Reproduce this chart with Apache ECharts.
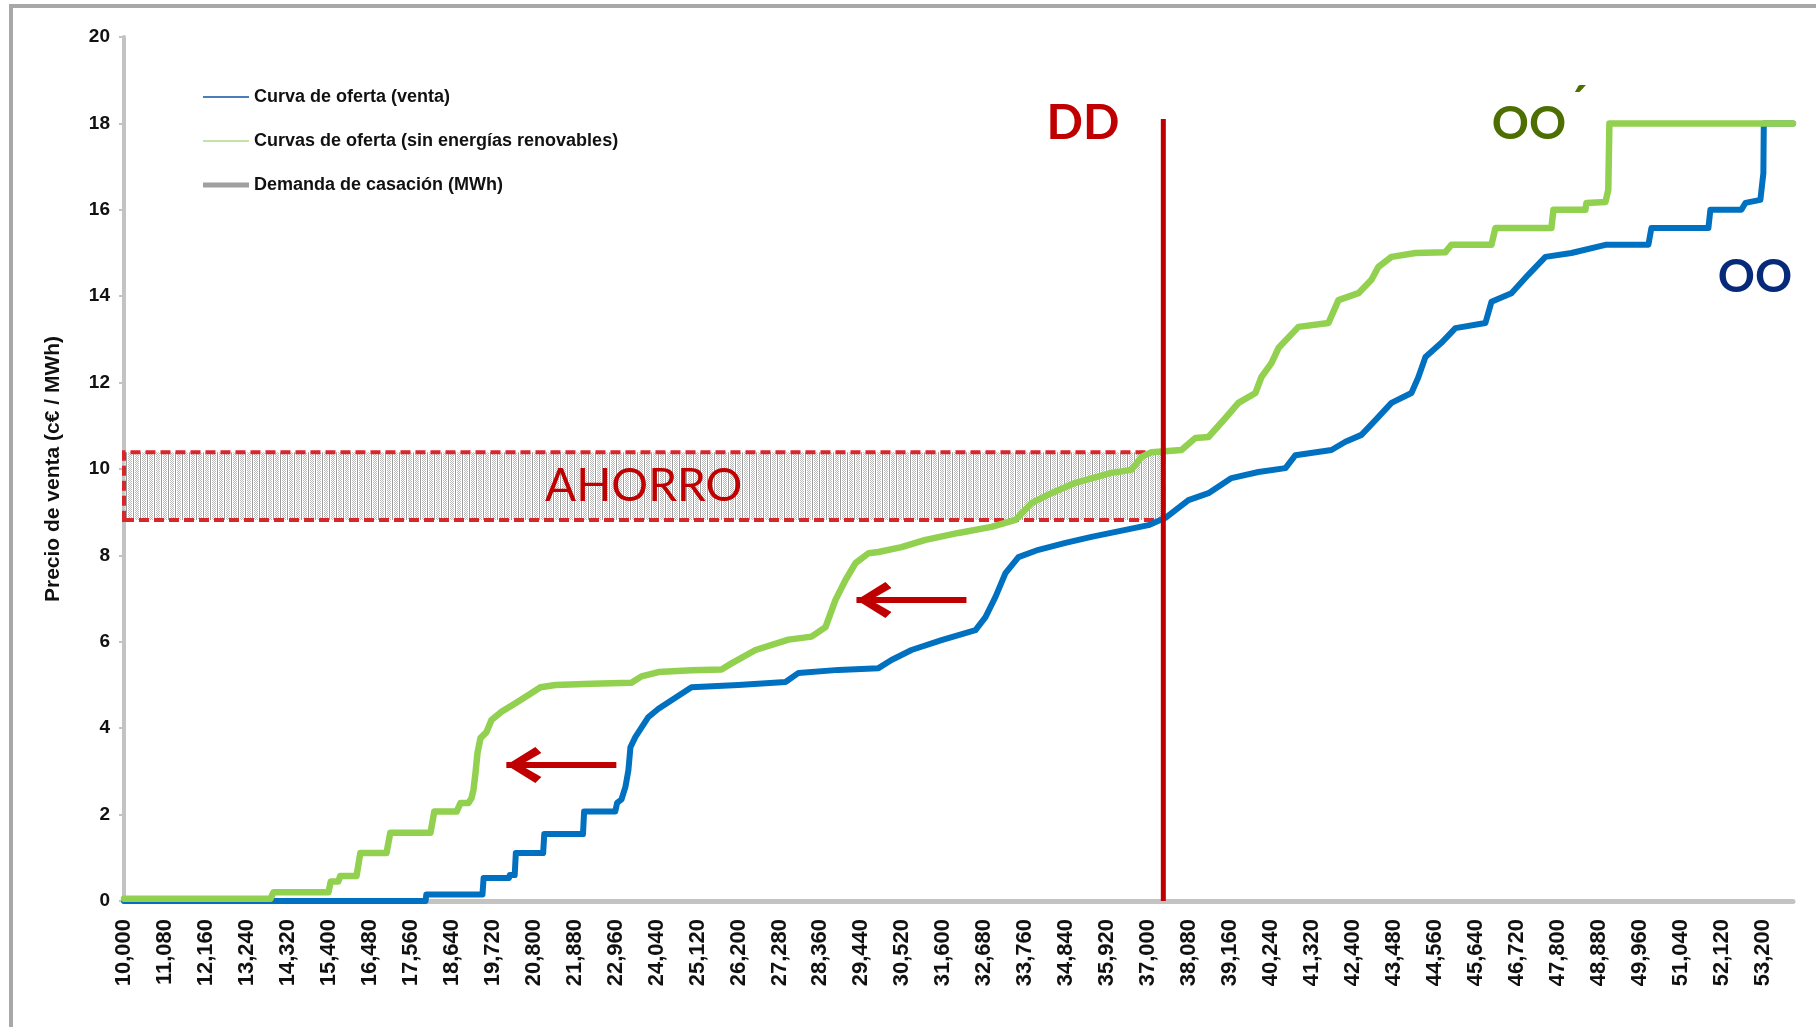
<!DOCTYPE html>
<html>
<head>
<meta charset="utf-8">
<script src="https://cdn.jsdelivr.net/npm/echarts@6/dist/echarts.min.js"></script>
<style>
html,body{margin:0;padding:0;background:#fff;}
#chart{width:1816px;height:1027px;}
</style>
</head>
<body>
<div id="chart"></div>
<script>
// ---- data ----
const SERIES_NAMES = ['Curva de oferta (venta)', 'Curvas de oferta (sin energías renovables)', 'Demanda de casación (MWh)'];
const X_MIN = 10000, X_MAX = 54000, X_STEP = 1080;
const Y_MIN = 0, Y_MAX = 20, Y_STEP = 2;

const BLUE_MWH = [10000,17950,17970,19450,19480,20150,20170,20300,20330,21050,21080,22100,22130,22950,23000,23114,23219,23298,23351,23483,23826,24090,24353,24961,26200,27439,27782,28836,29891,30233,30761,31552,32448,32711,32975,33238,33581,34108,34820,35505,36401,37008,37456,38062,38590,39196,39907,40619,40883,41832,42201,42623,42992,43414,43941,44125,44310,44731,45100,45891,46050,46577,47025,47473,48158,49055,50188,50267,51770,51822,52639,52745,53140,53219,53230,54000];
const BLUE_PRICE = [0,0,0.15,0.15,0.53,0.53,0.6,0.6,1.11,1.11,1.55,1.55,2.07,2.07,2.27,2.35,2.64,3.03,3.56,3.80,4.26,4.45,4.6,4.95,5.0,5.07,5.28,5.35,5.39,5.58,5.81,6.04,6.27,6.57,7.04,7.59,7.96,8.13,8.29,8.43,8.59,8.70,8.87,9.28,9.44,9.79,9.93,10.02,10.32,10.44,10.63,10.79,11.13,11.53,11.76,12.13,12.59,12.92,13.26,13.38,13.87,14.07,14.50,14.91,15.0,15.19,15.19,15.58,15.58,16.0,16.0,16.16,16.23,16.85,18.0,18.0];

const GREEN_MWH = [10000,13860,13940,15390,15450,15650,15700,16130,16230,16920,17020,18080,18180,18770,18870,19080,19160,19213,19266,19319,19398,19556,19688,19952,20320,20663,20979,21375,22324,23378,23642,24090,24961,25752,26016,26648,27518,28125,28494,28757,29021,29284,29627,29891,30497,31130,31999,32869,33502,33923,34451,35083,36032,36560,36823,37087,37878,38247,38590,39038,39380,39829,39987,40250,40435,40962,41753,42017,42544,42887,43071,43414,44046,44837,44995,46050,46155,47631,47684,48527,48554,49055,49130,49160,54000];
const GREEN_PRICE = [0.05,0.05,0.2,0.2,0.45,0.45,0.58,0.58,1.11,1.11,1.58,1.58,2.07,2.07,2.27,2.27,2.38,2.57,2.96,3.43,3.77,3.91,4.19,4.38,4.58,4.77,4.95,5.0,5.03,5.05,5.2,5.3,5.34,5.36,5.5,5.81,6.05,6.12,6.34,6.97,7.43,7.82,8.05,8.08,8.19,8.36,8.52,8.66,8.82,9.21,9.44,9.68,9.91,9.98,10.28,10.39,10.44,10.72,10.74,11.18,11.53,11.76,12.13,12.45,12.80,13.29,13.38,13.91,14.07,14.38,14.68,14.91,15.00,15.02,15.19,15.19,15.58,15.58,16.0,16.0,16.16,16.18,16.46,18.0,18.0];

const DD_MWH = 37400;          // demanda de casación
const DD_PRICE_RANGE = [0, 18.1];
const AHORRO_PRICE = [8.82, 10.39]; // precio con / sin renovables en DD
const ARROW_PRICE = [3.15, 6.97];
const ARROW_FROM = [22980, 32210];
const ARROW_TO = [20080, 29310];

const LABELS = {dd: 'DD', ooGreen: 'OO', prime: '´', ooBlue: 'OO', ahorro: 'AHORRO'};

// ---- build ----
const zip = (xs, ys) => xs.map((x, i) => [x, ys[i]]);
const fmt = v => String(Math.round(v)).replace(/\B(?=(\d{3})+(?!\d))/g, ',');

// dotted gray fill pattern
const pc = document.createElement('canvas');
pc.width = 7; pc.height = 4;
const g = pc.getContext('2d');
g.fillStyle = 'rgba(255,255,255,0.5)'; g.fillRect(0, 0, 7, 4);
g.fillStyle = '#9c9c9c'; g.fillRect(0, 0, 1, 4);
g.fillStyle = '#b8b8b8';
g.fillRect(2, 0, 1, 1); g.fillRect(4, 0, 1, 1); g.fillRect(3, 1, 1, 1); g.fillRect(5, 1, 1, 1);
g.fillRect(2, 2, 1, 1); g.fillRect(4, 2, 1, 1); g.fillRect(3, 3, 1, 1); g.fillRect(5, 3, 1, 1);

const chevron = 'path://M0,0 L18,29 L12,35 L0,14 L-12,35 L-18,29 Z M0,-35 L0.01,-35 L0,-34.99 Z';
const thinIcon = 'path://M0,0 L0.01,0 L0,0.01 Z M0,7 L46,7 L46,9 L0,9 Z M0,16 L0.01,16 L0,15.99 Z';
const thickIcon = 'path://M0,0 L0.01,0 L0,0.01 Z M0,5.5 L46,5.5 L46,10.5 L0,10.5 Z M0,16 L0.01,16 L0,15.99 Z';

const AX_FONT = 'Liberation Sans';
const ANN_FONT = 'Lato';

const chart = echarts.init(document.getElementById('chart'), null, {renderer: 'canvas'});
chart.setOption({
  backgroundColor: '#fff',
  animation: false,
  grid: {left: 124, right: 23, top: 37, bottom: 126, containLabel: false},
  legend: {
    orient: 'vertical', left: 203, top: 88, padding: 0,
    itemWidth: 46, itemHeight: 16, itemGap: 26,
    textStyle: {fontFamily: AX_FONT, fontSize: 18, fontWeight: 'bold', color: '#111'},
    data: [
      {name: SERIES_NAMES[0], icon: thinIcon, itemStyle: {color: '#4a7ebb', borderWidth: 0}},
      {name: SERIES_NAMES[1], icon: thinIcon, itemStyle: {color: '#c3e3a5', borderWidth: 0}},
      {name: SERIES_NAMES[2], icon: thickIcon, itemStyle: {color: '#a0a0a0', borderWidth: 0}}
    ]
  },
  xAxis: {
    type: 'value', min: X_MIN, max: X_MAX, interval: X_STEP,
    axisLine: {show: true, onZero: false, lineStyle: {color: '#c3c3c3', width: 5}},
    axisTick: {show: false},
    splitLine: {show: false},
    axisLabel: {
      rotate: 90, margin: 18, fontFamily: AX_FONT, fontSize: 22, fontWeight: 'bold', color: '#111',
      formatter: fmt, showMaxLabel: false, showMinLabel: true, hideOverlap: false
    }
  },
  yAxis: {
    type: 'value', min: Y_MIN, max: Y_MAX, interval: Y_STEP,
    name: 'Precio de venta (c€ / MWh)', nameLocation: 'middle', nameRotate: 90, nameGap: 60,
    nameTextStyle: {fontFamily: AX_FONT, fontSize: 21, fontWeight: 'bold', color: '#111'},
    axisLine: {show: true, lineStyle: {color: '#c3c3c3', width: 4}},
    axisTick: {show: true, length: 5, lineStyle: {color: '#c3c3c3', width: 2}},
    splitLine: {show: false},
    axisLabel: {margin: 14, fontFamily: AX_FONT, fontSize: 19, fontWeight: 'bold', color: '#111'}
  },
  series: [
    {
      name: SERIES_NAMES[0], type: 'line', data: zip(BLUE_MWH, BLUE_PRICE),
      symbol: 'none', showSymbol: false, z: 2, color: '#0070c0',
      lineStyle: {width: 6, color: '#0070c0', cap: 'round', join: 'round'}
    },
    {
      name: SERIES_NAMES[1], type: 'line', data: zip(GREEN_MWH, GREEN_PRICE),
      symbol: 'none', showSymbol: false, z: 3, color: '#92d050',
      lineStyle: {width: 6.5, color: '#92d050', cap: 'round', join: 'round'}
    },
    {
      name: SERIES_NAMES[2], type: 'line', data: [],
      symbol: 'none', showSymbol: false, color: '#a0a0a0',
      lineStyle: {width: 5, color: '#a0a0a0'}
    },
    {
      name: 'ahorro', type: 'line', data: [], z: 4, silent: true,
      markArea: {
        silent: true,
        itemStyle: {
          color: {image: pc, repeat: 'repeat'},
          borderColor: '#d8262c', borderWidth: 4, borderType: [10, 5]
        },
        label: {
          show: true, position: 'inside', formatter: LABELS.ahorro,
          fontFamily: ANN_FONT, fontSize: 46, color: '#c00000'
        },
        data: [[{coord: [X_MIN, AHORRO_PRICE[0]]}, {coord: [DD_MWH, AHORRO_PRICE[1]]}]]
      }
    },
    {
      name: 'DD', type: 'line', data: [[DD_MWH, DD_PRICE_RANGE[0]], [DD_MWH, DD_PRICE_RANGE[1]]],
      symbol: 'none', showSymbol: false, z: 6, silent: true,
      lineStyle: {width: 5, color: '#c00000', cap: 'butt'}
    },
    {
      name: 'flechas', type: 'line', data: [], z: 6, silent: true,
      markLine: {
        silent: true, animation: false,
        symbol: ['none', chevron], symbolSize: [36, 70],
        label: {show: false},
        lineStyle: {color: '#c00000', width: 6, type: 'solid'},
        itemStyle: {color: '#c00000'},
        emphasis: {disabled: true},
        data: ARROW_PRICE.map((p, i) => [{coord: [ARROW_FROM[i], p]}, {coord: [ARROW_TO[i], p]}])
      }
    }
  ],
  graphic: [
    {type: 'rect', z: -10, silent: true, shape: {x: 11, y: 6, width: 1900, height: 1200},
     style: {fill: 'none', stroke: '#a8a8a8', lineWidth: 4}},
    {type: 'text', x: 1083, y: 124, z: 10, style: {text: LABELS.dd, font: 'bold 48px Lato', fill: '#c00000', align: 'center', verticalAlign: 'middle', textAlign: 'center', textVerticalAlign: 'middle'}},
    {type: 'text', x: 1529, y: 124, z: 10, style: {text: LABELS.ooGreen, font: 'bold 46px Lato', fill: '#4d6e00', align: 'center', verticalAlign: 'middle', textAlign: 'center', textVerticalAlign: 'middle'}},
    {type: 'text', x: 1578, y: 104, z: 10, style: {text: LABELS.prime, font: 'bold 46px Lato', fill: '#4d6e00', align: 'center', verticalAlign: 'middle', textAlign: 'center', textVerticalAlign: 'middle'}},
    {type: 'text', x: 1755, y: 277, z: 10, style: {text: LABELS.ooBlue, font: 'bold 46px Lato', fill: '#06297a', align: 'center', verticalAlign: 'middle', textAlign: 'center', textVerticalAlign: 'middle'}}
  ]
});
</script>
</body>
</html>
